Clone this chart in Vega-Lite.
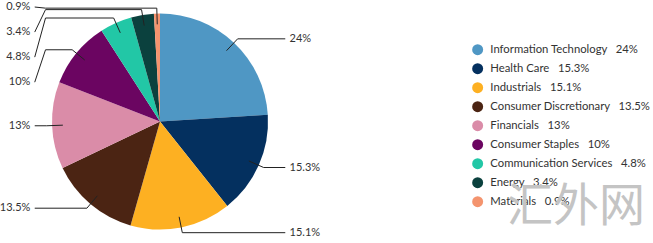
{
  "$schema": "https://vega.github.io/schema/vega-lite/v6.json",
  "width": 320,
  "height": 243,
  "autosize": {"type": "none"},
  "padding": {"left": 0, "top": 0, "right": 333, "bottom": 0},
  "background": "white",
  "config": {"view": {"stroke": null}, "font": "Lato"},
  "title": {"text": "汇外网", "font": "Noto Sans CJK SC", "fontSize": 46, "fontWeight": "normal", "color": "#c4c4c4", "opacity": 0.8, "orient": "top", "anchor": "start", "frame": "group", "baseline": "alphabetic", "dx": 507, "dy": 267, "offset": 0},
  "data": {
    "values": [
      {"sector": "Information Technology", "value": 24, "order": 1},
      {"sector": "Health Care", "value": 15.3, "order": 2},
      {"sector": "Industrials", "value": 15.1, "order": 3},
      {"sector": "Consumer Discretionary", "value": 13.5, "order": 4},
      {"sector": "Financials", "value": 13, "order": 5},
      {"sector": "Consumer Staples", "value": 10, "order": 6},
      {"sector": "Communication Services", "value": 4.8, "order": 7},
      {"sector": "Energy", "value": 3.4, "order": 8},
      {"sector": "Materials", "value": 0.9, "order": 9}
    ]
  },
  "transform": [
    {"window": [{"op": "sum", "field": "value", "as": "cum"}], "sort": [{"field": "order"}], "frame": [null, 0]},
    {"calculate": "datum.sector + '\u00a0\u00a0\u00a0' + datum.value + '%'", "as": "legendLabel"},
    {"calculate": "datum.value + '%'", "as": "pct"},
    {"calculate": "(datum.cum - datum.value / 2) / 100 * 2 * PI", "as": "mid"},
    {"calculate": "0.9 * sin(datum.mid)", "as": "ax"},
    {"calculate": "-0.9 * cos(datum.mid)", "as": "ay"},
    {"calculate": "1.05 * sin(datum.mid)", "as": "ex"},
    {"calculate": "-1.05 * cos(datum.mid)", "as": "ey"},
    {"calculate": "datum.order <= 5 ? (datum.ex > 0 ? 1.16 : -1.16) : -1.06", "as": "kx"},
    {"calculate": "datum.order <= 5 ? datum.ey : -1.06 + 0.232 * (9 - datum.order)", "as": "ly"},
    {"calculate": "datum.order <= 5 ? datum.kx : -1.16", "as": "lx"},
    {"calculate": "datum.ex > 0 ? 1.2 : -1.2", "as": "tx"}
  ],
  "layer": [
    {
      "mark": {"type": "arc", "outerRadius": 108},
      "encoding": {
        "theta": {"field": "value", "type": "quantitative", "stack": true},
        "order": {"field": "order", "type": "quantitative"},
        "color": {
          "field": "legendLabel",
          "type": "nominal",
          "scale": {
            "domain": ["Information Technology\u00a0\u00a0\u00a024%", "Health Care\u00a0\u00a0\u00a015.3%", "Industrials\u00a0\u00a0\u00a015.1%", "Consumer Discretionary\u00a0\u00a0\u00a013.5%", "Financials\u00a0\u00a0\u00a013%", "Consumer Staples\u00a0\u00a0\u00a010%", "Communication Services\u00a0\u00a0\u00a04.8%", "Energy\u00a0\u00a0\u00a03.4%", "Materials\u00a0\u00a0\u00a00.9%"],
            "range": ["#4f97c4", "#04305f", "#fdb022", "#4b2413", "#da8ca8", "#6b0561", "#22c7a6", "#0b413e", "#f4946e"]
          },
          "legend": {
            "orient": "none", "legendX": 472, "legendY": 44, "title": null,
            "symbolType": "circle", "symbolSize": 120, "symbolStrokeWidth": 0,
            "labelFontSize": 11.3, "labelColor": "#333333", "labelFont": "Lato",
            "rowPadding": 6, "labelOffset": 7, "labelLimit": 300
          }
        }
      }
    },
    {
      "mark": {"type": "rule", "color": "#222222", "strokeWidth": 1},
      "encoding": {
        "x": {"field": "ax", "type": "quantitative", "scale": {"domain": [-1.4815, 1.4815], "nice": false, "zero": false}, "axis": null},
        "y": {"field": "ay", "type": "quantitative", "scale": {"domain": [-1.125, 1.125], "nice": false, "zero": false, "reverse": true}, "axis": null},
        "x2": {"field": "ex"},
        "y2": {"field": "ey"}
      }
    },
    {
      "mark": {"type": "rule", "color": "#222222", "strokeWidth": 1},
      "encoding": {
        "x": {"field": "ex", "type": "quantitative"},
        "y": {"field": "ey", "type": "quantitative"},
        "x2": {"field": "kx"},
        "y2": {"field": "ey"}
      }
    },
    {
      "mark": {"type": "rule", "color": "#222222", "strokeWidth": 1},
      "encoding": {
        "x": {"field": "kx", "type": "quantitative"},
        "y": {"field": "ey", "type": "quantitative"},
        "x2": {"field": "lx"},
        "y2": {"field": "ly"}
      }
    },
    {
      "transform": [{"filter": "datum.tx > 0"}],
      "mark": {"type": "text", "align": "left", "baseline": "middle", "fontSize": 11, "color": "#333333", "font": "Lato"},
      "encoding": {
        "x": {"field": "tx", "type": "quantitative"},
        "y": {"field": "ly", "type": "quantitative"},
        "text": {"field": "pct"}
      }
    },
    {
      "transform": [{"filter": "datum.tx < 0"}],
      "mark": {"type": "text", "align": "right", "baseline": "middle", "fontSize": 11, "color": "#333333", "font": "Lato"},
      "encoding": {
        "x": {"field": "tx", "type": "quantitative"},
        "y": {"field": "ly", "type": "quantitative"},
        "text": {"field": "pct"}
      }
    }
  ]
}
